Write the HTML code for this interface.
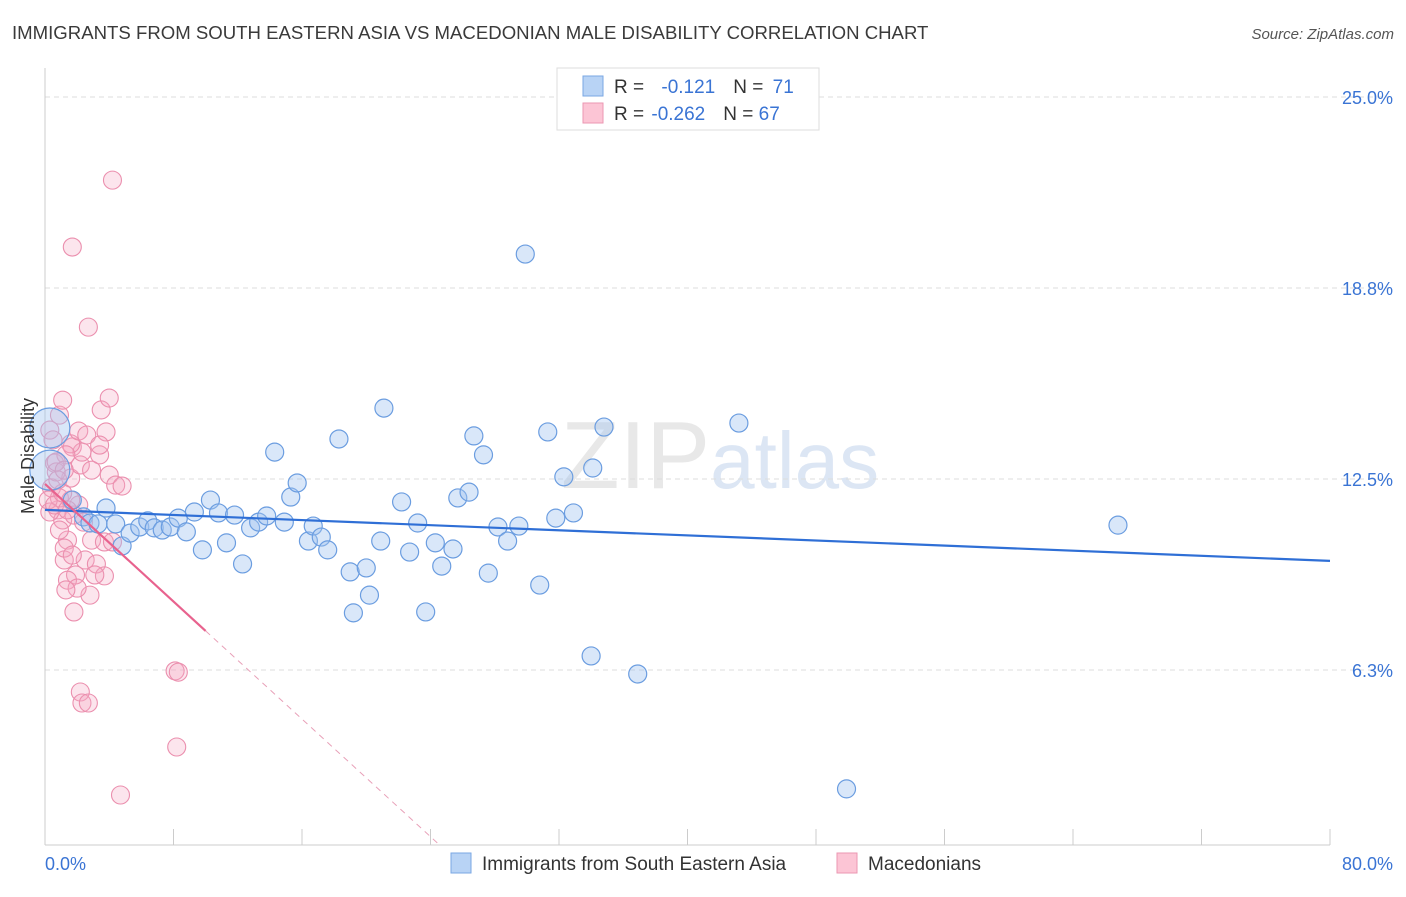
<!DOCTYPE html>
<html><head><meta charset="utf-8">
<style>
body{margin:0;background:#fff;font-family:"Liberation Sans",sans-serif;}
svg text{font-family:"Liberation Sans",sans-serif;}
</style></head>
<body>
<svg id="chart" width="1406" height="892" xmlns="http://www.w3.org/2000/svg">
<text x="12" y="39" font-size="18.6" fill="#3a3a3a">IMMIGRANTS FROM SOUTH EASTERN ASIA VS MACEDONIAN MALE DISABILITY CORRELATION CHART</text>
<text x="1394" y="39" font-size="15" fill="#555" font-style="italic" text-anchor="end">Source: ZipAtlas.com</text>
<text x="720" y="488" font-size="96" fill="#e8e8e8" text-anchor="middle" font-family="Liberation Serif">ZIP<tspan fill="#dce6f4" font-family="Liberation Sans" font-size="80">atlas</tspan></text>
<g id="grid"></g>
<g id="axes"></g>
<g id="marks"></g>
<g id="trends"></g>
<text transform="translate(34,456) rotate(-90)" font-size="18" fill="#333" text-anchor="middle">Male Disability</text>
<g>
<rect x="557" y="68" width="262" height="62" fill="#fff" stroke="#ddd"/>
<rect x="583" y="76" width="20" height="20" fill="#b8d3f5" stroke="#7aa7e3"/>
<rect x="583" y="103" width="20" height="20" fill="#fcc5d5" stroke="#eb97b2"/>
<text x="614" y="93" font-size="19" fill="#333">R = <tspan fill="#3a74d4" dx="12">-0.121</tspan><tspan dx="18" fill="#333">N = </tspan><tspan fill="#3a74d4" dx="4">71</tspan></text>
<text x="614" y="120" font-size="19" fill="#333">R = <tspan fill="#3a74d4" dx="2">-0.262</tspan><tspan dx="18" fill="#333">N = </tspan><tspan fill="#3a74d4">67</tspan></text>
</g>
<g>
<rect x="451" y="853" width="20" height="20" fill="#b8d3f5" stroke="#7aa7e3"/>
<text x="482" y="870" font-size="19" fill="#333">Immigrants from South Eastern Asia</text>
<rect x="837" y="853" width="20" height="20" fill="#fcc5d5" stroke="#eb97b2"/>
<text x="868" y="870" font-size="19" fill="#333">Macedonians</text>
</g>
</svg>
<script>
const blueX=[0.3,0.3,1.7,2.4,2.8,3.3,3.8,4.4,4.8,5.3,5.9,6.4,6.8,7.3,7.8,8.3,8.8,9.3,9.8,10.3,10.8,11.3,11.8,12.3,12.8,13.3,13.8,14.3,14.9,15.3,15.7,16.4,16.7,17.2,17.6,18.3,19.0,19.2,20.0,20.2,20.9,21.1,22.2,22.7,23.2,23.7,24.3,24.7,25.4,25.7,26.4,26.7,27.3,27.6,28.2,28.8,29.5,29.9,30.8,31.3,31.8,32.3,32.9,34.0,34.1,34.8,36.9,43.2,49.9,66.8];
const blueY=[14.17,12.79,11.81,11.26,11.06,11.03,11.55,11.03,10.31,10.73,10.93,11.13,10.90,10.83,10.93,11.22,10.77,11.42,10.18,11.81,11.39,10.41,11.32,9.72,10.90,11.09,11.29,13.38,11.09,11.91,12.37,10.47,10.96,10.60,10.18,13.81,9.46,8.12,9.59,8.70,10.47,14.82,11.75,10.11,11.06,8.15,10.41,9.65,10.21,11.88,12.07,13.91,13.29,9.42,10.93,10.47,10.96,19.86,9.03,14.04,11.22,12.57,11.39,6.71,12.86,14.20,6.12,14.33,2.36,10.99];
const pinkX=[0.3,0.4,0.6,0.8,0.9,1.1,1.2,1.4,1.6,1.7,1.7,1.8,1.9,2.1,2.2,2.3,2.5,2.7,2.8,2.9,3.2,3.4,3.5,3.7,3.8,4.0,4.0,4.2,4.4,4.7,4.8,2.2,2.3,2.7,8.1,8.3,8.2,0.2,0.3,0.5,0.7,0.9,1.1,1.2,1.4,1.6,1.8,2.1,1.3,1.6,0.9,0.7,0.6,1.1,1.4,1.7,2.0,2.4,2.6,2.9,3.1,3.4,3.7,4.2,0.8,1.2,1.3];
const pinkY=[14.10,12.21,13.02,11.49,11.88,11.16,9.85,10.50,12.53,13.55,20.09,11.32,9.36,11.65,12.96,13.38,9.85,17.47,8.70,10.50,9.72,13.29,14.76,9.33,14.04,15.15,12.63,22.28,12.30,2.16,12.27,5.53,5.17,5.17,6.22,6.18,3.73,11.81,11.42,13.78,12.73,14.59,15.08,10.24,9.19,13.65,8.15,14.07,13.29,11.81,10.83,13.06,11.65,12.04,11.49,10.01,8.93,11.09,13.94,12.79,9.36,13.61,10.44,10.44,12.47,12.79,8.87];
const blueBig=[0,1];
const blueTrend=[11.49,9.82];
const pinkTrend=[12.34,7.53];
const yTicks=[25,18.75,12.5,6.25];
const yTickLabels=["25.0%","18.8%","12.5%","6.3%"];
const xTicks=[0,8,16,24,32,40,48,56,64,72,80];

const NS="http://www.w3.org/2000/svg";
const xs=v=>45+v*16.0625;
const ys=v=>861-v*30.56;
function mk(tag,attrs,parent){const e=document.createElementNS(NS,tag);for(const k in attrs)e.setAttribute(k,attrs[k]);parent.appendChild(e);return e;}
const grid=document.getElementById('grid'),axes=document.getElementById('axes'),marks=document.getElementById('marks'),trends=document.getElementById('trends');
yTicks.forEach((t,i)=>{
  const l=mk('line',{x1:45,x2:1392,y1:ys(t),y2:ys(t),stroke:'#ddd','stroke-dasharray':'5,4'},grid);
  
  
  const tx=mk('text',{x:1393,y:ys(t)+7,'font-size':18,fill:'#3a74d4','text-anchor':'end'},axes);
  tx.textContent=yTickLabels[i];
  
  
});
const ax=mk('line',{x1:45,x2:1330,y1:845,y2:845,stroke:'#ccc'},axes);


const ay=mk('line',{x1:45,x2:45,y1:68,y2:845,stroke:'#ccc'},axes);


xTicks.forEach(t=>{
  const l=mk('line',{x1:xs(t),x2:xs(t),y1:829,y2:845,stroke:'#ccc'},axes);
  
  
});
[[0,"0.0%","start",45],[80,"80.0%","end",1393]].forEach(d=>{
  const tx=mk('text',{x:d[3],y:870,'font-size':18,fill:'#3a74d4','text-anchor':d[2]},axes);
  tx.textContent=d[1];
  
  
});
pinkX.forEach((x,i)=>{
  const c=mk('circle',{cx:xs(x),cy:ys(pinkY[i]),r:9,fill:'rgba(245,170,195,0.3)',stroke:'#eb8fae','stroke-width':1.1},marks);
  
  
});
blueX.forEach((x,i)=>{
  const big=blueBig.includes(i);
  const c=mk('circle',{cx:xs(x),cy:ys(blueY[i]),r:big?20:9,fill:'rgba(160,195,240,0.4)',stroke:'#6b9de0','stroke-width':1.2},marks);
  
  
});
const bt=mk('line',{x1:xs(0),y1:ys(blueTrend[0]),x2:xs(80),y2:ys(blueTrend[1]),stroke:'#2f6fd6','stroke-width':2.2},trends);


const slope=(pinkTrend[1]-pinkTrend[0])/10;
const yEnd=0.52, xEnd=(yEnd-pinkTrend[0])/slope;
const pt=mk('line',{x1:xs(0),y1:ys(pinkTrend[0]),x2:xs(10),y2:ys(pinkTrend[1]),stroke:'#e8628e','stroke-width':2.2},trends);


const pd=mk('line',{x1:xs(10),y1:ys(pinkTrend[1]),x2:xs(xEnd),y2:ys(yEnd),stroke:'#e8a0b8','stroke-width':1,'stroke-dasharray':'6,5'},trends);


</script>
</body></html>
